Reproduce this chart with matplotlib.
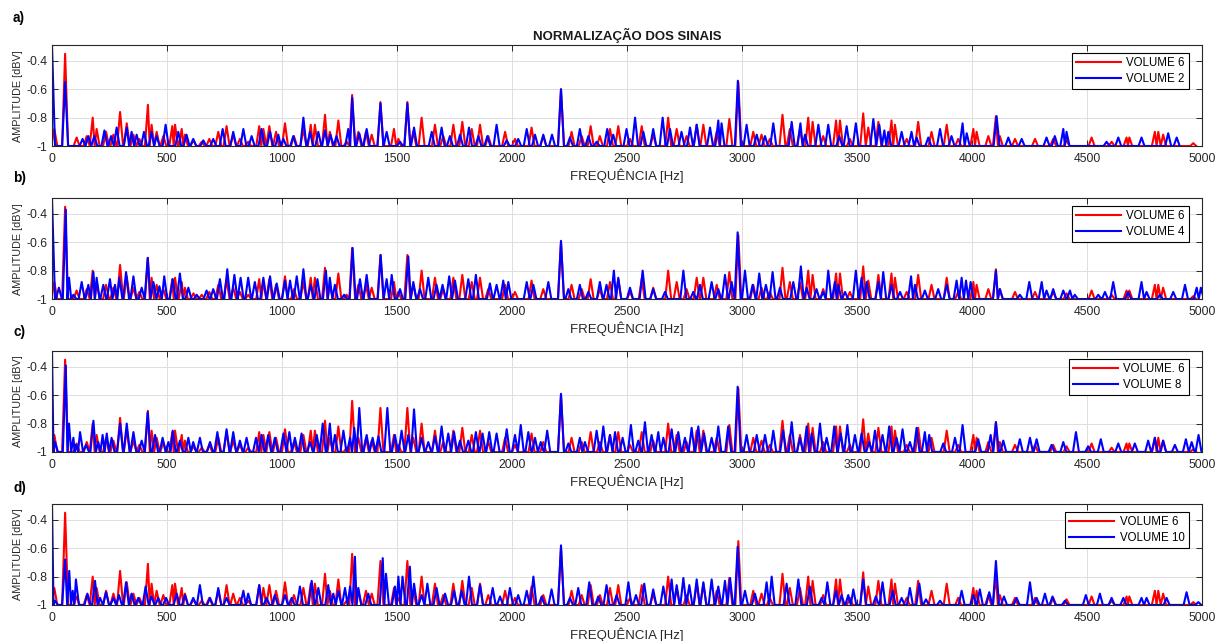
import numpy as np
import matplotlib
matplotlib.use("Agg")
import matplotlib.pyplot as plt

plt.rcParams["font.family"] = ["Liberation Sans", "DejaVu Sans"]
plt.rcParams["axes.unicode_minus"] = False

# peak (frequency Hz, amplitude); floor between peaks is -1
VOL6 = [(10, -0.88), (57, -0.35), (107, -0.94), (151, -0.93), (177, -0.80), (194, -0.88),
        (235, -0.90), (267, -0.92), (296, -0.76), (325, -0.84), (354, -0.92), (380, -0.95),
        (417, -0.71), (433, -0.85), (455, -0.90), (484, -0.93), (523, -0.86), (535, -0.85),
        (564, -0.88), (578, -0.92), (615, -0.96), (651, -0.97), (684, -0.95), (723, -0.90),
        (759, -0.86), (788, -0.92), (817, -0.95), (853, -0.97), (901, -0.86), (919, -0.88),
        (945, -0.86), (974, -0.90), (1013, -0.84), (1052, -0.93), (1093, -0.88), (1125, -0.85),
        (1143, -0.85), (1187, -0.78), (1208, -0.90), (1245, -0.82), (1281, -0.97), (1305, -0.64),
        (1332, -0.90), (1365, -0.90), (1390, -0.92), (1428, -0.69), (1487, -0.88), (1506, -0.95),
        (1545, -0.69), (1571, -0.90), (1607, -0.80), (1665, -0.85), (1701, -0.93), (1745, -0.85),
        (1784, -0.83), (1825, -0.88), (1861, -0.85), (1897, -0.93), (1970, -0.90), (2013, -0.95),
        (2085, -0.87), (2136, -0.93), (2213, -0.60), (2259, -0.90), (2303, -0.93), (2342, -0.86),
        (2382, -0.93), (2426, -0.88), (2462, -0.86), (2513, -0.95), (2564, -0.86), (2614, -0.92),
        (2679, -0.80), (2716, -0.88), (2759, -0.93), (2803, -0.85), (2832, -0.85), (2890, -0.90),
        (2945, -0.81), (2984, -0.55), (3049, -0.90), (3085, -0.92), (3121, -0.95), (3176, -0.78),
        (3208, -0.88), (3252, -0.88), (3288, -0.80), (3307, -0.83), (3353, -0.93), (3409, -0.82),
        (3426, -0.82), (3469, -0.95), (3527, -0.77), (3549, -0.87), (3593, -0.83), (3650, -0.82),
        (3665, -0.85), (3716, -0.95), (3766, -0.83), (3824, -0.90), (3890, -0.85), (3940, -0.95),
        (4006, -0.88), (4020, -0.90), (4071, -0.93), (4104, -0.79), (4121, -0.93), (4187, -0.95),
        (4274, -0.95), (4353, -0.95), (4411, -0.96), (4520, -0.94), (4607, -0.97), (4672, -0.94),
        (4684, -0.94), (4795, -0.90), (4810, -0.90), (4831, -0.92), (4962, -0.98)]

VOL2 = [(0, -0.29), (57, -0.55), (133, -0.95), (158, -0.93), (184, -0.93), (228, -0.89),
        (257, -0.93), (281, -0.87), (325, -0.87), (346, -0.90), (368, -0.92), (400, -0.90),
        (433, -0.90), (455, -0.93), (494, -0.85), (549, -0.90), (585, -0.92), (614, -0.95),
        (658, -0.96), (701, -0.95), (742, -0.88), (788, -0.90), (832, -0.88), (868, -0.93),
        (911, -0.88), (948, -0.90), (984, -0.92), (1006, -0.95), (1049, -0.93), (1093, -0.80),
        (1122, -0.90), (1158, -0.90), (1187, -0.89), (1211, -0.92), (1237, -0.93), (1288, -0.88),
        (1305, -0.66), (1336, -0.91), (1368, -0.88), (1428, -0.70), (1455, -0.90), (1513, -0.97),
        (1545, -0.70), (1574, -0.87), (1651, -0.90), (1694, -0.87), (1730, -0.93), (1774, -0.92),
        (1813, -0.87), (1854, -0.93), (1893, -0.93), (1933, -0.85), (1977, -0.96), (2027, -0.95),
        (2064, -0.88), (2100, -0.92), (2136, -0.92), (2174, -0.92), (2213, -0.60), (2252, -0.94),
        (2295, -0.88), (2332, -0.93), (2368, -0.97), (2414, -0.88), (2440, -0.92), (2498, -0.88),
        (2535, -0.80), (2571, -0.90), (2614, -0.88), (2655, -0.80), (2687, -0.88), (2737, -0.90),
        (2774, -0.87), (2803, -0.85), (2861, -0.87), (2897, -0.82), (2911, -0.84), (2982, -0.54),
        (3020, -0.85), (3064, -0.92), (3100, -0.93), (3136, -0.84), (3216, -0.83), (3254, -0.84),
        (3274, -0.92), (3332, -0.85), (3375, -0.85), (3423, -0.93), (3455, -0.86), (3495, -0.84),
        (3571, -0.81), (3597, -0.85), (3619, -0.89), (3636, -0.90), (3694, -0.90), (3737, -0.90),
        (3759, -0.94), (3810, -0.94), (3861, -0.88), (3911, -0.93), (3959, -0.84), (3977, -0.91),
        (4107, -0.79), (4158, -0.94), (4216, -0.95), (4324, -0.94), (4360, -0.93), (4397, -0.88),
        (4411, -0.90), (4585, -0.97), (4636, -0.94), (4737, -0.94), (4853, -0.91), (4890, -0.94)]

VOL4 = [(0, -0.29), (30, -0.92), (60, -0.37), (74, -0.85), (93, -0.97), (129, -0.88),
        (158, -0.90), (180, -0.81), (194, -0.85), (223, -0.90), (252, -0.86), (274, -0.90),
        (293, -0.85), (322, -0.81), (354, -0.84), (390, -0.92), (416, -0.71), (441, -0.88),
        (467, -0.91), (488, -0.84), (525, -0.86), (556, -0.82), (593, -0.92), (629, -0.97),
        (672, -0.94), (701, -0.93), (730, -0.86), (762, -0.79), (793, -0.83), (820, -0.85),
        (853, -0.85), (882, -0.88), (919, -0.85), (948, -0.84), (977, -0.89), (1013, -0.87),
        (1035, -0.87), (1064, -0.84), (1093, -0.79), (1125, -0.90), (1154, -0.86), (1191, -0.80),
        (1208, -0.85), (1230, -0.90), (1270, -0.97), (1307, -0.64), (1339, -0.86), (1368, -0.83),
        (1429, -0.69), (1455, -0.86), (1477, -0.83), (1513, -0.93), (1549, -0.70), (1571, -0.88),
        (1600, -0.93), (1636, -0.85), (1672, -0.90), (1698, -0.90), (1727, -0.84), (1752, -0.87),
        (1810, -0.86), (1843, -0.83), (1904, -0.89), (1933, -0.90), (1962, -0.87), (1984, -0.88),
        (2064, -0.88), (2093, -0.90), (2158, -0.88), (2213, -0.59), (2245, -0.93), (2295, -0.90),
        (2332, -0.95), (2382, -0.88), (2411, -0.90), (2443, -0.80), (2462, -0.85), (2513, -0.92),
        (2568, -0.80), (2614, -0.93), (2665, -0.95), (2745, -0.80), (2788, -0.95), (2817, -0.90),
        (2868, -0.88), (2897, -0.93), (2926, -0.83), (2955, -0.88), (2981, -0.53), (3013, -0.80),
        (3046, -0.90), (3075, -0.82), (3104, -0.90), (3133, -0.81), (3165, -0.92), (3223, -0.88),
        (3256, -0.77), (3281, -0.92), (3324, -0.93), (3353, -0.95), (3375, -0.80), (3404, -0.88),
        (3419, -0.90), (3448, -0.95), (3495, -0.80), (3520, -0.85), (3542, -0.88), (3593, -0.88),
        (3614, -0.81), (3650, -0.90), (3687, -0.95), (3735, -0.84), (3752, -0.90), (3795, -0.94),
        (3853, -0.93), (3890, -0.90), (3933, -0.87), (3955, -0.85), (3974, -0.87), (3994, -0.88),
        (4104, -0.80), (4121, -0.93), (4208, -0.97), (4249, -0.88), (4303, -0.88), (4324, -0.94),
        (4353, -0.93), (4397, -0.94), (4426, -0.94), (4447, -0.97), (4549, -0.97), (4578, -0.95),
        (4614, -0.88), (4679, -0.95), (4737, -0.88), (4759, -0.95), (4817, -0.97), (4875, -0.95),
        (4926, -0.90), (4977, -0.92), (4995, -0.92)]

VOL8 = [(0, -0.29), (13, -0.93), (60, -0.39), (74, -0.80), (93, -0.90), (104, -0.95),
        (122, -0.86), (148, -0.95), (180, -0.78), (201, -0.93), (220, -0.88), (238, -0.87),
        (259, -0.90), (296, -0.80), (325, -0.80), (354, -0.86), (390, -0.92), (416, -0.72),
        (448, -0.88), (481, -0.90), (506, -0.93), (525, -0.85), (556, -0.92), (593, -0.90),
        (614, -0.93), (643, -0.90), (687, -0.93), (719, -0.86), (759, -0.84), (788, -0.86),
        (817, -0.92), (846, -0.90), (887, -0.90), (911, -0.88), (940, -0.88), (969, -0.90),
        (1006, -0.87), (1032, -0.86), (1056, -0.90), (1085, -0.87), (1122, -0.93), (1151, -0.88),
        (1177, -0.80), (1208, -0.80), (1230, -0.88), (1267, -0.85), (1296, -0.90), (1314, -0.83),
        (1336, -0.69), (1368, -0.88), (1394, -0.90), (1419, -0.89), (1458, -0.69), (1491, -0.88),
        (1520, -0.85), (1549, -0.88), (1574, -0.70), (1607, -0.90), (1636, -0.93), (1665, -0.89),
        (1694, -0.82), (1723, -0.87), (1748, -0.86), (1774, -0.92), (1810, -0.92), (1843, -0.86),
        (1872, -0.87), (1901, -0.86), (1933, -0.87), (1977, -0.84), (2013, -0.88), (2038, -0.81),
        (2071, -0.86), (2100, -0.90), (2125, -0.93), (2153, -0.85), (2213, -0.59), (2245, -0.94),
        (2295, -0.90), (2317, -0.93), (2368, -0.85), (2397, -0.82), (2426, -0.88), (2448, -0.86),
        (2481, -0.90), (2517, -0.81), (2549, -0.92), (2578, -0.79), (2607, -0.88), (2636, -0.86),
        (2658, -0.90), (2694, -0.84), (2723, -0.86), (2752, -0.90), (2781, -0.83), (2810, -0.82),
        (2835, -0.87), (2868, -0.90), (2897, -0.82), (2940, -0.82), (2981, -0.54), (3020, -0.88),
        (3064, -0.88), (3100, -0.88), (3136, -0.85), (3179, -0.85), (3216, -0.79), (3252, -0.90),
        (3281, -0.82), (3303, -0.87), (3339, -0.80), (3368, -0.90), (3401, -0.82), (3429, -0.87),
        (3458, -0.81), (3491, -0.88), (3520, -0.87), (3553, -0.93), (3578, -0.85), (3611, -0.88),
        (3640, -0.82), (3672, -0.90), (3698, -0.84), (3730, -0.93), (3759, -0.83), (3795, -0.86),
        (3814, -0.88), (3875, -0.94), (3926, -0.90), (3959, -0.81), (4027, -0.91), (4081, -0.88),
        (4104, -0.79), (4136, -0.92), (4208, -0.91), (4252, -0.90), (4281, -0.91), (4346, -0.95),
        (4397, -0.93), (4452, -0.86), (4505, -0.96), (4560, -0.91), (4636, -0.94), (4708, -0.94),
        (4766, -0.92), (4795, -0.90), (4831, -0.92), (4882, -0.95), (4930, -0.91), (4955, -0.93),
        (4985, -0.88)]

VOL10 = [(0, -0.29), (13, -0.97), (57, -0.68), (75, -0.76), (90, -0.90), (104, -0.82),
         (154, -0.92), (187, -0.83), (209, -0.95), (235, -0.91), (267, -0.95), (291, -0.93),
         (322, -0.84), (346, -0.92), (375, -0.95), (407, -0.87), (433, -0.94), (462, -0.95),
         (496, -0.95), (542, -0.92), (578, -0.93), (614, -0.95), (643, -0.86), (687, -0.95),
         (723, -0.88), (759, -0.95), (832, -0.90), (853, -0.92), (901, -0.86), (933, -0.95),
         (969, -0.93), (1013, -0.93), (1042, -0.95), (1078, -0.87), (1129, -0.83), (1158, -0.88),
         (1201, -0.86), (1223, -0.92), (1245, -0.90), (1274, -0.88), (1296, -0.87), (1317, -0.66),
         (1332, -0.88), (1375, -0.92), (1438, -0.67), (1452, -0.78), (1491, -0.87), (1506, -0.80),
         (1524, -0.80), (1556, -0.73), (1574, -0.85), (1607, -0.93), (1632, -0.85), (1672, -0.88),
         (1709, -0.92), (1748, -0.90), (1781, -0.90), (1813, -0.80), (1861, -0.86), (1916, -0.88),
         (1948, -0.94), (1991, -0.88), (2027, -0.93), (2064, -0.90), (2093, -0.80), (2129, -0.94),
         (2172, -0.89), (2213, -0.58), (2252, -0.95), (2288, -0.88), (2336, -0.84), (2375, -0.94),
         (2411, -0.86), (2455, -0.93), (2506, -0.84), (2539, -0.93), (2575, -0.85), (2614, -0.89),
         (2658, -0.87), (2694, -0.82), (2716, -0.86), (2745, -0.81), (2771, -0.86), (2803, -0.82),
         (2832, -0.84), (2868, -0.82), (2897, -0.87), (2926, -0.83), (2948, -0.81), (2981, -0.59),
         (3013, -0.90), (3056, -0.92), (3107, -0.84), (3129, -0.80), (3194, -0.85), (3245, -0.82),
         (3295, -0.87), (3346, -0.95), (3371, -0.84), (3409, -0.90), (3433, -0.93), (3462, -0.93),
         (3484, -0.89), (3527, -0.82), (3582, -0.94), (3611, -0.84), (3655, -0.90), (3694, -0.95),
         (3730, -0.88), (3771, -0.85), (3800, -0.96), (3861, -0.97), (3955, -0.90), (4006, -0.93),
         (4034, -0.89), (4075, -0.91), (4104, -0.69), (4139, -0.94), (4194, -0.95), (4252, -0.84),
         (4281, -0.95), (4317, -0.92), (4350, -0.94), (4404, -0.97), (4495, -0.93), (4556, -0.92),
         (4607, -0.95), (4658, -0.95), (4737, -0.95), (4759, -0.95), (4846, -0.95), (4933, -0.91),
         (4984, -0.98)]

PANELS = [("a)", VOL2, "VOLUME 6", "VOLUME 2"),
          ("b)", VOL4, "VOLUME 6", "VOLUME 4"),
          ("c)", VOL8, "VOLUME. 6", "VOLUME 8"),
          ("d)", VOL10, "VOLUME 6", "VOLUME 10")]

X_TICKS = list(range(0, 5001, 500))
Y_TICKS = [-1, -0.8, -0.6, -0.4]
Y_TICK_LABELS = ["-1", "-0.8", "-0.6", "-0.4"]
FLOOR = -1.0


def spectrum_line(peaks, hw=13):
    # each peak rises from the floor and returns to it
    f = np.array([p[0] for p in peaks], dtype=float)
    a = np.array([p[1] for p in peaks], dtype=float)
    xs, ys = [], []
    for i in range(len(f)):
        left = f[i] - hw
        right = f[i] + hw
        if i > 0:
            left = max(left, (f[i - 1] + f[i]) / 2)
        if i < len(f) - 1:
            right = min(right, (f[i] + f[i + 1]) / 2)
        xs += [left, f[i], right]
        ys += [FLOOR, a[i], FLOOR]
    return np.array(xs), np.array(ys)


fig = plt.figure(figsize=(12.15, 6.41), dpi=100)
dark = "#262626"
bottoms = [0.7722, 0.5335, 0.2949, 0.0562]
letter_y = [0.972, 0.722, 0.482, 0.239]

for k, (letter, blue, red_label, blue_label) in enumerate(PANELS):
    ax = fig.add_axes([0.0428, bottoms[k], 0.9465, 0.1572])
    rx, ry = spectrum_line(VOL6)
    bx, by = spectrum_line(blue)
    ax.plot(rx, ry, color="#ff0000", lw=1.5, label=red_label)
    ax.plot(bx, by, color="#0000ff", lw=1.5, label=blue_label)

    ax.set_xlim(0, 5000)
    ax.set_ylim(-1, -0.29)
    ax.set_xticks(X_TICKS)
    ax.set_yticks(Y_TICKS)
    ax.set_yticklabels(Y_TICK_LABELS)
    ax.grid(True, color="#dedede", lw=0.7)
    ax.set_axisbelow(True)
    ax.tick_params(direction="in", top=True, right=True, length=4, width=0.7,
                   colors=dark, labelsize=8.8)
    ax.tick_params(axis="x", pad=5)
    ax.tick_params(axis="y", pad=3.5)
    for s in ax.spines.values():
        s.set_color(dark)
        s.set_linewidth(0.8)

    ax.set_xlabel("FREQUÊNCIA [Hz]", fontsize=9.5, color=dark, labelpad=2.5)
    ax.set_ylabel("AMPLITUDE [dBV]", fontsize=7.8, color=dark, labelpad=2)

    leg = ax.legend(loc="upper right", bbox_to_anchor=(0.9887, 0.92), borderaxespad=0,
                    fontsize=8.3, handlelength=3.9, handletextpad=0.5, labelspacing=0.3,
                    borderpad=0.35, fancybox=False, framealpha=1)
    leg.get_frame().set_edgecolor("black")
    leg.get_frame().set_linewidth(0.8)

    fig.text(0.0107, letter_y[k], letter, fontsize=9.8, fontweight="bold", va="center")

    if k == 0:
        ax.set_title("NORMALIZAÇÃO DOS SINAIS", fontsize=9.5, fontweight="bold",
                     color="#1a1a1a", pad=3.5)

fig.savefig("out.png", dpi=100)
